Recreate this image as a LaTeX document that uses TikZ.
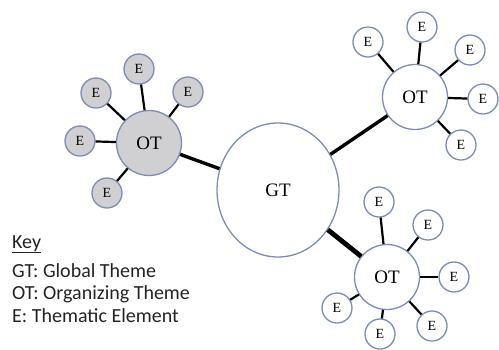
\documentclass[tikz,border=0pt]{standalone}
\usepackage{fontspec}
\setmainfont{Liberation Serif}
\newfontfamily\keyfont{Carlito}
\usetikzlibrary{shapes.geometric}
\definecolor{bord}{RGB}{125,140,180}
\definecolor{greyfill}{RGB}{208,208,210}
\definecolor{keycol}{RGB}{35,35,35}
\tikzset{
  enode/.style={circle,draw=bord,line width=1.3pt,minimum size=30pt,inner sep=0pt,fill=white,font=\fontsize{14}{14}\selectfont},
  otnode/.style={circle,draw=bord,line width=1.3pt,minimum size=65pt,inner sep=0pt,fill=white,font=\fontsize{19}{19}\selectfont},
  gtnode/.style={ellipse,draw=bord,line width=1.3pt,minimum width=122pt,minimum height=134pt,inner sep=0pt,fill=white,font=\fontsize{19}{19}\selectfont},
  grey/.style={fill=greyfill},
  link/.style={line width=2.2pt,black},
  mainlink/.style={line width=3.4pt,black},
  keytext/.style={anchor=base west,inner sep=0pt,text=keycol,font=\keyfont\fontsize{20}{20}\selectfont}
}
\begin{document}
\begin{tikzpicture}[x=1pt,y=-1pt]
\useasboundingbox (0,0) rectangle (499,349);
% global theme
\node[gtnode] (gt) at (278,190) {GT};
% left cluster
\node[otnode,grey] (ot1) at (149,143) {OT};
\node[enode,grey] (e11) at (139,69) {E};
\node[enode,grey] (e12) at (96,93) {E};
\node[enode,grey] (e13) at (188,92) {E};
\node[enode,grey] (e14) at (80,141) {E};
\node[enode,grey] (e15) at (107,193) {E};
% top right cluster
\node[otnode] (ot2) at (415,97) {OT};
\node[enode] (e21) at (368,42) {E};
\node[enode] (e22) at (422,27) {E};
\node[enode] (e23) at (470,50) {E};
\node[enode] (e24) at (483,99) {E};
\node[enode] (e25) at (461,145) {E};
% bottom right cluster
\node[otnode] (ot3) at (387,277) {OT};
\node[enode] (e31) at (379,202) {E};
\node[enode] (e32) at (428,225) {E};
\node[enode] (e33) at (454,277) {E};
\node[enode] (e34) at (432,326) {E};
\node[enode] (e35) at (380,334) {E};
\node[enode] (e36) at (337,308) {E};
% connectors
\draw[mainlink] (ot1) -- (gt);
\draw[mainlink] (gt) -- (ot2);
\draw[mainlink,line width=4.8pt] (gt) -- (ot3);
\foreach \e in {e11,e12,e13,e14,e15} \draw[link] (ot1) -- (\e);
\foreach \e in {e21,e22,e23,e24,e25} \draw[link] (ot2) -- (\e);
\foreach \e in {e31,e32,e33,e34,e35,e36} \draw[link] (ot3) -- (\e);
% key
\node[keytext] (k0) at (12,248) {\underline{Key}};
\node[keytext] (k1) at (12,277) {GT: Global Theme};
\node[keytext] (k2) at (12,299.5) {OT: Organizing Theme};
\node[keytext] (k3) at (12,322) {E: Thematic Element};
\end{tikzpicture}
\end{document}
